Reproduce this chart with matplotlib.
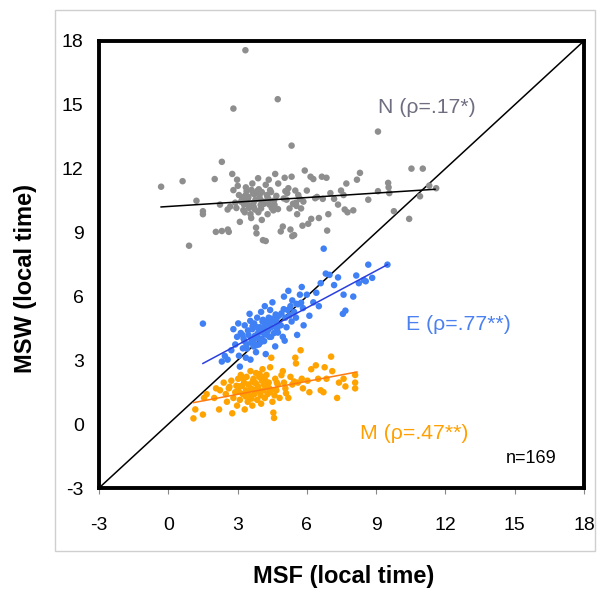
import matplotlib
matplotlib.use("Agg")
import matplotlib.pyplot as plt
from matplotlib.patches import Rectangle

plt.rcParams['font.family'] = ['Liberation Sans', 'DejaVu Sans']

# ---- data ----
n_x = [3.34, 4.74, 2.82, 9.08, 5.34, 2.32, 10.53, 11.02, 11.60, 10.43, 9.77,
       -0.31, 0.62, 0.90, 1.22, 1.50, 1.50, 2.01, 2.06, 2.32, 2.58, 2.62, 2.24,
       2.57, 2.68, 2.77, 2.82, 2.90, 2.98, 3.01, 3.06, 3.10, 3.23, 3.28, 3.31,
       3.36, 3.39, 3.42, 3.47, 3.52, 3.56, 3.59, 3.64, 3.67, 3.69, 3.75, 3.80,
       3.82, 3.89, 3.92, 3.97, 4.02, 4.05, 4.10, 4.22, 4.22, 4.27, 4.30, 4.35,
       4.38, 4.41, 4.55, 4.63, 4.68, 4.76, 4.87, 4.96, 5.04, 5.07, 5.12, 5.20,
       5.25, 5.29, 5.34, 5.37, 5.45, 5.50, 5.53, 5.58, 5.63, 5.70, 5.75, 5.81,
       5.91, 6.00, 6.06, 6.16, 6.19, 6.28, 6.36, 6.44, 6.52, 6.65, 6.69, 6.85,
       6.88, 6.93, 7.02, 7.18, 7.35, 7.48, 7.59, 7.64, 7.71, 7.76, 8.01, 8.17,
       8.30, 8.66, 9.08, 9.52, 9.54, 9.57, 10.90, 11.30,
       3.15, 3.45, 3.70, 3.95, 4.15, 4.45, 3.25, 3.55, 3.85, 4.10, 4.35, 3.60,
       3.90, 4.60, 5.15, 5.40, 2.95, 3.35, 4.05, 4.75,
       3.20, 3.50, 3.78, 4.00, 4.30, 4.58, 5.55, 5.85, 3.40, 3.72, 4.48, 5.00]
n_y = [17.56, 15.26, 14.82, 13.74, 13.08, 12.32, 12.00, 12.00, 11.08, 9.64, 10.00,
       11.15, 11.41, 8.38, 10.49, 10.00, 9.86, 11.51, 9.03, 9.07, 9.14, 9.03, 10.31,
       10.08, 10.22, 11.75, 10.99, 10.40, 11.48, 11.19, 10.76, 9.50, 10.58, 10.31, 9.95,
       11.12, 10.94, 10.49, 10.67, 10.22, 9.86, 9.68, 11.30, 10.85, 10.40, 10.08, 9.23,
       8.96, 11.55, 11.03, 10.58, 10.13, 9.59, 8.64, 8.60, 11.24, 10.76, 9.86, 11.48,
       10.31, 10.99, 10.04, 11.75, 10.72, 11.30, 9.05, 9.28, 11.57, 10.94, 10.54, 11.08,
       10.13, 9.14, 11.62, 8.83, 8.88, 10.97, 10.40, 9.86, 10.76, 10.58, 10.13, 9.32,
       11.91, 10.97, 9.41, 11.62, 9.64, 11.51, 10.61, 10.67, 9.68, 11.62, 10.58, 11.57,
       9.09, 9.86, 10.85, 10.58, 10.31, 10.97, 10.76, 10.08, 11.30, 9.95, 10.04, 11.48,
       11.80, 10.54, 10.94, 11.33, 11.12, 10.85, 10.70, 11.20,
       10.45, 10.60, 10.20, 10.75, 10.35, 10.90, 10.05, 10.25, 10.95, 10.45, 10.55, 11.00,
       9.95, 10.30, 10.85, 10.35, 10.15, 10.75, 10.90, 10.10,
       10.65, 10.15, 10.55, 10.30, 10.65, 10.50, 10.25, 10.45, 10.35, 10.80, 10.15, 10.60]
n_fit_x = [-0.31, 11.55]
n_fit_y = [10.20, 11.03]

e_x = [1.50, 2.32, 2.45, 2.57, 2.73, 2.82, 2.90, 2.98, 3.03, 3.06, 3.10, 3.14,
       3.23, 3.26, 3.31, 3.36, 3.39, 3.47, 3.52, 3.56, 3.59, 3.64, 3.69, 3.72,
       3.75, 3.80, 3.85, 3.89, 3.92, 3.97, 4.02, 4.05, 4.08, 4.13, 4.18, 4.22,
       4.22, 4.30, 4.35, 4.38, 4.41, 4.46, 4.51, 4.55, 4.58, 4.63, 4.68, 4.71,
       4.79, 4.87, 4.96, 5.01, 5.04, 5.07, 5.12, 5.17, 5.20, 5.29, 5.34, 5.37,
       5.45, 5.53, 5.58, 5.61, 5.70, 5.78, 5.83, 5.86, 6.00, 6.11, 6.28, 6.41,
       6.52, 6.60, 6.73, 6.82, 6.98, 7.18, 7.35, 7.59, 7.56, 7.67, 8.01, 8.14,
       8.25, 8.47, 8.55, 8.66, 8.83, 9.49,
       3.45, 3.70, 3.95, 4.20, 4.50, 3.60, 3.85, 4.10, 4.40, 4.65, 4.90, 5.25,
       3.30, 3.75, 4.00, 4.25, 4.75, 5.00, 3.55, 4.15,
       3.40, 3.65, 3.90, 4.15, 4.45, 4.70, 3.20, 3.80, 4.05, 4.30, 5.55, 5.75]
e_y = [4.72, 2.94, 3.20, 3.03, 3.47, 4.46, 3.74, 4.10, 4.73, 3.21, 2.70, 4.28,
       3.56, 4.01, 4.64, 3.12, 3.74, 4.19, 5.18, 3.03, 3.83, 4.46, 3.65, 4.73,
       4.10, 3.38, 5.00, 4.28, 3.74, 4.55, 5.27, 4.01, 4.82, 4.28, 5.54, 4.64,
       3.29, 4.37, 5.00, 4.10, 5.36, 4.55, 5.72, 4.82, 4.28, 3.65, 4.91, 4.46,
       5.09, 4.64, 4.10, 5.99, 3.92, 5.00, 4.55, 5.36, 6.26, 5.54, 4.82, 5.81,
       5.27, 5.00, 4.19, 5.63, 6.08, 6.44, 5.45, 4.64, 6.08, 5.09, 5.72, 6.17,
       5.54, 6.62, 8.24, 7.07, 7.01, 6.53, 6.89, 6.08, 5.18, 5.33, 5.99, 6.98,
       6.62, 6.77, 6.71, 7.49, 6.87, 7.49,
       4.40, 3.95, 4.40, 4.70, 4.95, 4.00, 4.55, 4.90, 4.75, 5.15, 5.20, 5.10,
       3.90, 4.15, 3.85, 4.20, 4.30, 5.40, 4.85, 3.90,
       3.55, 4.60, 4.05, 4.50, 4.10, 4.65, 4.20, 3.70, 4.35, 4.85, 5.65, 5.70]
e_fit_x = [1.50, 9.49]
e_fit_y = [2.85, 7.49]

m_x = [1.09, 1.17, 1.50, 1.55, 1.66, 1.99, 2.07, 2.20, 2.24, 2.40, 2.49, 2.54,
       2.62, 2.73, 2.77, 2.82, 2.90, 2.98, 3.03, 3.06, 3.10, 3.14, 3.23, 3.28,
       3.31, 3.36, 3.39, 3.44, 3.47, 3.52, 3.56, 3.59, 3.64, 3.69, 3.72, 3.75,
       3.80, 3.85, 3.89, 3.94, 3.97, 4.02, 4.05, 4.08, 4.13, 4.18, 4.22, 4.25,
       4.30, 4.35, 4.38, 4.41, 4.46, 4.51, 4.55, 4.58, 4.63, 4.68, 4.74, 4.82,
       4.96, 5.01, 5.07, 5.20, 5.29, 5.37, 5.50, 5.53, 5.61, 5.73, 5.78, 5.83,
       6.03, 6.11, 6.19, 6.39, 6.49, 6.60, 6.72, 6.77, 6.85, 7.05, 7.10, 7.31,
       7.39, 7.59, 7.67, 8.09, 8.09, 8.09,
       3.20, 3.45, 3.65, 3.90, 4.10, 4.30, 3.35, 3.80, 4.00, 4.20, 4.45, 2.95,
       3.60, 3.95, 4.60, 4.90, 5.10, 5.45,
       3.05, 3.50, 3.75, 4.15, 4.40, 2.65, 3.25, 4.70]
m_y = [0.27, 0.69, 0.45, 1.23, 1.41, 1.23, 1.68, 0.69, 1.59, 1.95, 1.41, 1.05,
       1.68, 2.04, 0.51, 1.23, 1.50, 0.87, 2.13, 1.77, 1.14, 2.31, 1.41, 1.95,
       0.69, 1.59, 2.22, 1.05, 1.86, 1.32, 2.49, 1.68, 0.87, 2.13, 1.41, 1.95,
       2.40, 1.14, 1.77, 2.22, 1.50, 0.96, 2.04, 2.58, 1.59, 1.23, 1.86, 2.31,
       1.41, 1.95, 1.68, 2.67, 3.12, 1.05, 0.54, 0.29, 2.13, 1.59, 1.86, 1.23,
       2.49, 1.95, 1.68, 1.23, 2.22, 1.86, 3.12, 2.85, 1.95, 3.47, 2.13, 1.68,
       2.04, 1.50, 2.58, 2.76, 2.13, 1.59, 1.50, 2.67, 2.13, 3.17, 2.49, 1.23,
       1.95, 2.13, 1.77, 2.31, 1.95, 1.68,
       1.80, 1.55, 2.00, 1.65, 2.20, 1.75, 1.30, 1.90, 1.35, 2.05, 1.60, 1.80,
       1.20, 2.35, 1.35, 2.30, 1.45, 2.00,
       1.55, 1.25, 1.60, 1.85, 1.50, 1.75, 2.15, 1.95]
m_fit_x = [1.09, 8.17]
m_fit_y = [1.01, 2.45]

diag = [-3, 18]
ticks = [-3, 0, 3, 6, 9, 12, 15, 18]

labels = ["N (\u03c1=.17*)", "E (\u03c1=.77**)", "M (\u03c1=.47**)"]
n_total = "n=169"

# ---- plot ----
fig = plt.figure(figsize=(5.97, 6.01), dpi=100)
fig.patches.append(Rectangle((0.092, 0.083), 0.905, 0.900, transform=fig.transFigure,
                             fill=False, edgecolor='#cfcfcf', linewidth=1.0))
ax = fig.add_axes([0.1658, 0.188, 0.8124, 0.744])

ax.plot(diag, diag, color='black', lw=1.1, zorder=2)

c_n, c_e, c_m = '#8e8e8e', '#4080f5', '#ffa300'
ax.scatter(n_x, n_y, s=22, color=c_n, edgecolors='none', zorder=3)
ax.scatter(e_x, e_y, s=22, color=c_e, edgecolors='none', zorder=3)
ax.scatter(m_x, m_y, s=22, color=c_m, edgecolors='none', zorder=3)

ax.plot(n_fit_x, n_fit_y, color='black', lw=1.1, zorder=4)
ax.plot(e_fit_x, e_fit_y, color='#2a3fe0', lw=1.1, zorder=4)
ax.plot(m_fit_x, m_fit_y, color='#ff7a10', lw=1.1, zorder=4)

ax.text(9.07, 14.86, labels[0], color='#6e6e80', fontsize=15.3, va='center', ha='left')
ax.text(10.31, 4.68, labels[1], color='#4a80f0', fontsize=15.3, va='center', ha='left')
ax.text(8.30, -0.43, labels[2], color='#ffa000', fontsize=15.3, va='center', ha='left')
ax.text(14.6, -1.62, n_total, color='black', fontsize=13, va='center', ha='left')

ax.set_xlim(-3, 18)
ax.set_ylim(-3, 18)
ax.set_xticks(ticks)
ax.set_yticks(ticks)
ax.set_xticklabels([str(t) for t in ticks])
ax.set_yticklabels([str(t) for t in ticks])
ax.tick_params(axis='x', direction='out', length=4, width=0.8, color='#888888',
               pad=17, labelsize=14)
ax.tick_params(axis='y', length=0, pad=11, labelsize=14)
for sp in ax.spines.values():
    sp.set_linewidth(2.8)
    sp.set_color('black')

fig.text(0.576, 0.022, "MSF (local time)", fontsize=17, fontweight='bold',
         ha='center', va='bottom')
fig.text(0.043, 0.536, "MSW (local time)", fontsize=17, fontweight='bold',
         ha='center', va='center', rotation=90)

fig.savefig("out.png", dpi=100)
